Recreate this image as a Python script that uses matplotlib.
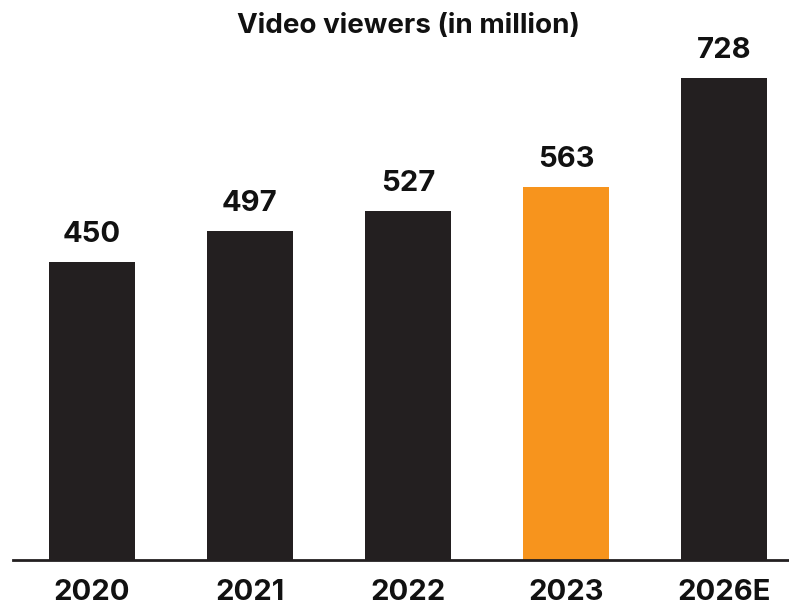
import matplotlib
matplotlib.use("Agg")
import matplotlib.pyplot as plt

categories = ["2020", "2021", "2022", "2023", "2026E"]
values = [450, 497, 527, 563, 728]
colors = ["#231f20", "#231f20", "#231f20", "#f7941d", "#231f20"]

plt.rcParams['font.family'] = ['Inter', 'DejaVu Sans']

fig = plt.figure(figsize=(7.89, 6.08), dpi=100)
ax = fig.add_axes([13/789, 48/608, 776/789, 560/608])

x = list(range(len(categories)))
bars = ax.bar(x, values, width=0.545, color=colors, zorder=2)
scale = 0.662  # px per unit
ax.set_ylim(0, 560 / scale)
ax.set_xlim(-0.5, (789 - 92) / 158)

for xi, v in zip(x, values):
    ax.annotate(str(v), (xi, v), xytext=(0, 10), textcoords="offset points",
                ha="center", va="bottom", fontsize=21, fontweight="bold", color="#111111")

ax.set_xticks(x)
ax.set_xticklabels(categories, fontsize=21, fontweight="bold", color="#111111")
ax.tick_params(axis="x", length=0, pad=14)
ax.set_yticks([])
for s in ["top", "right", "left"]:
    ax.spines[s].set_visible(False)
ax.spines["bottom"].set_color("#231f20")
ax.spines["bottom"].set_linewidth(2)

fig.text(408/789, 1 - 26/608, "Video viewers (in million)", ha="center", va="center",
         fontsize=20, fontweight="bold", color="#111111")

fig.savefig("out.png", dpi=100)
